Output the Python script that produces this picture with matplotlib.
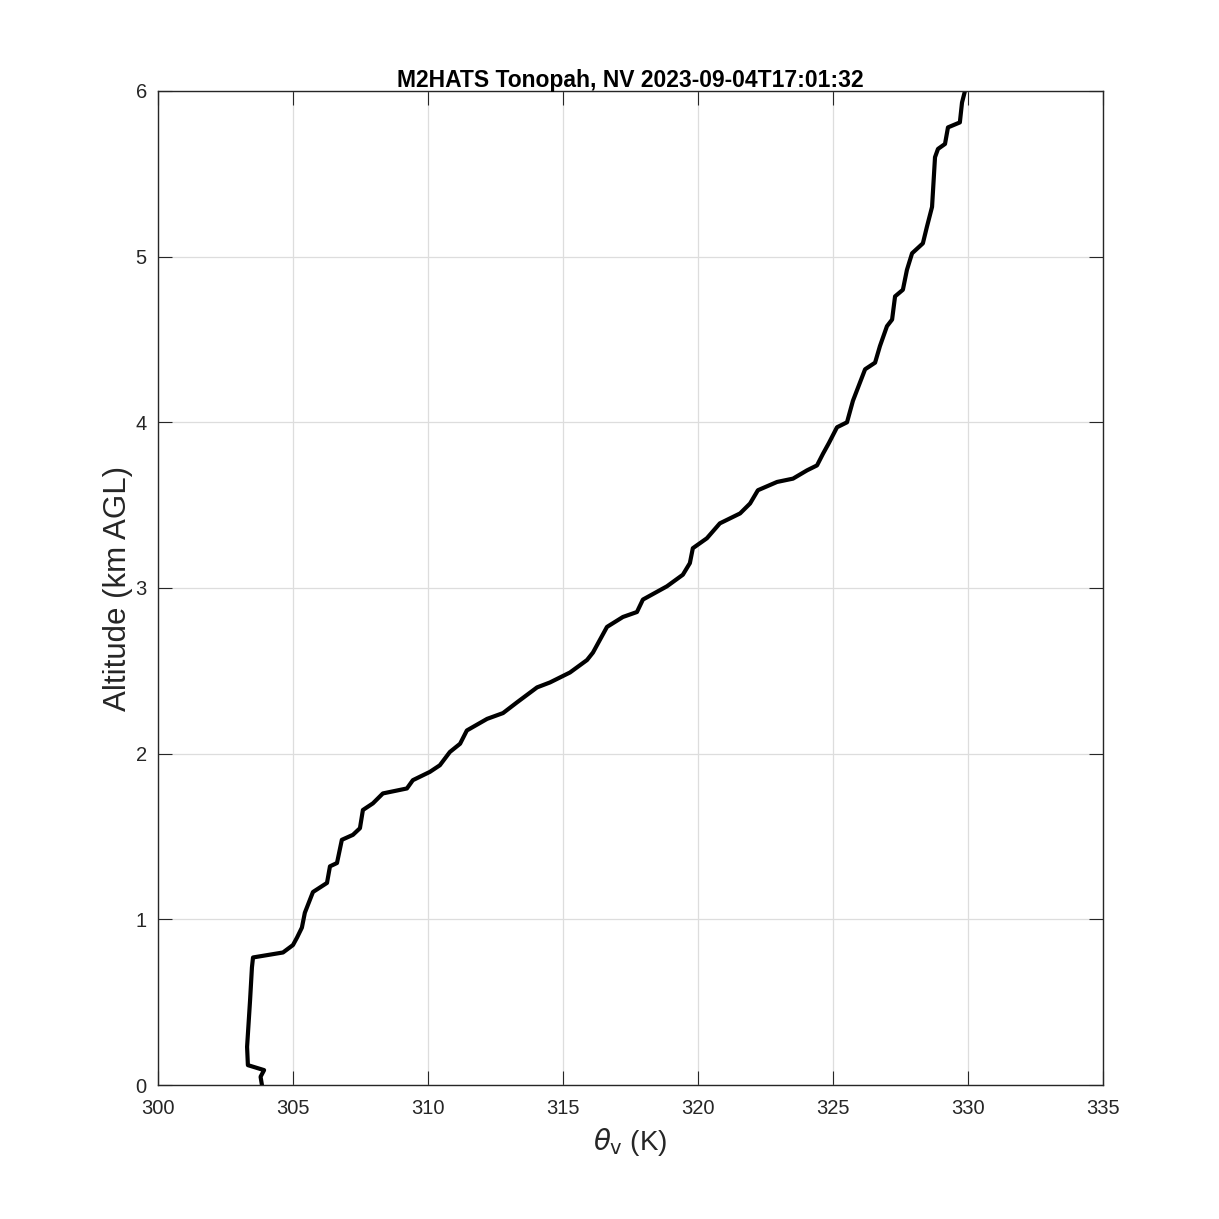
import numpy as np
import matplotlib.pyplot as plt

plt.rcParams['font.family'] = ['Liberation Sans', 'DejaVu Sans']

# virtual potential temperature profile (K)
theta_v = [303.85, 303.80, 303.93, 303.33, 303.30, 303.41, 303.48, 303.52, 303.89,
           304.63, 305.00, 305.15, 305.33, 305.44, 305.74, 306.26, 306.37, 306.63,
           306.81, 307.22, 307.48, 307.59, 307.96, 308.33, 309.22, 309.44, 310.07,
           310.44, 310.81, 311.19, 311.44, 312.19, 312.78, 313.30, 314.04, 314.52,
           315.26, 315.89, 316.11, 316.63, 317.22, 317.74, 317.96, 318.85, 319.44,
           319.70, 319.81, 320.33, 320.81, 321.56, 321.93, 322.22, 322.93, 323.52,
           324.04, 324.41, 324.63, 324.85, 325.15, 325.52, 325.74, 326.19, 326.56,
           326.74, 327.00, 327.19, 327.30, 327.59, 327.74, 327.93, 328.33, 328.48,
           328.67, 328.78, 328.89, 329.15, 329.26, 329.70, 329.78, 329.89]
# altitude (km AGL)
alt = [0.00, 0.05, 0.09, 0.12, 0.23, 0.51, 0.71, 0.77, 0.78,
       0.80, 0.845, 0.89, 0.95, 1.04, 1.165, 1.22, 1.32, 1.34,
       1.48, 1.51, 1.55, 1.66, 1.70, 1.76, 1.79, 1.84, 1.89,
       1.93, 2.01, 2.06, 2.14, 2.21, 2.245, 2.31, 2.40, 2.43,
       2.49, 2.565, 2.61, 2.765, 2.825, 2.855, 2.93, 3.01, 3.08,
       3.15, 3.24, 3.30, 3.39, 3.45, 3.51, 3.59, 3.64, 3.66,
       3.71, 3.74, 3.81, 3.875, 3.97, 4.00, 4.13, 4.32, 4.36,
       4.46, 4.58, 4.62, 4.76, 4.80, 4.92, 5.02, 5.08, 5.18,
       5.30, 5.60, 5.65, 5.68, 5.78, 5.81, 5.93, 6.00]

fig = plt.figure(figsize=(12.19, 12.19), dpi=100)
ax = fig.add_axes([0.1296, 0.1099, 0.7752, 0.8155])

ax.plot(theta_v, alt, color='black', linewidth=3.0, solid_joinstyle='round')

ax.set_xlim(300, 335)
ax.set_ylim(0, 6)
ax.set_xticks(np.arange(300, 336, 5))
ax.set_yticks(np.arange(0, 7, 1))
ax.grid(True, color='#dddddd', linewidth=0.9)
ax.set_axisbelow(True)
ax.tick_params(direction='in', length=10, width=0.8, top=True, right=True,
               labelsize=14.5, colors='#262626')
ax.tick_params(axis='x', pad=10)
ax.tick_params(axis='y', pad=8)
for s in ax.spines.values():
    s.set_linewidth(1.0)
    s.set_color('#262626')

ax.set_title('M2HATS Tonopah, NV 2023-09-04T17:01:32', fontsize=16.5,
             fontweight='bold', pad=3)
ax.set_xlabel(r'$\theta_{\mathrm{v}}$ (K)', fontsize=20, color='#262626', labelpad=6)
ax.set_ylabel('Altitude (km AGL)', fontsize=22.5, color='#262626', labelpad=2)

fig.savefig('out.png', dpi=100)
